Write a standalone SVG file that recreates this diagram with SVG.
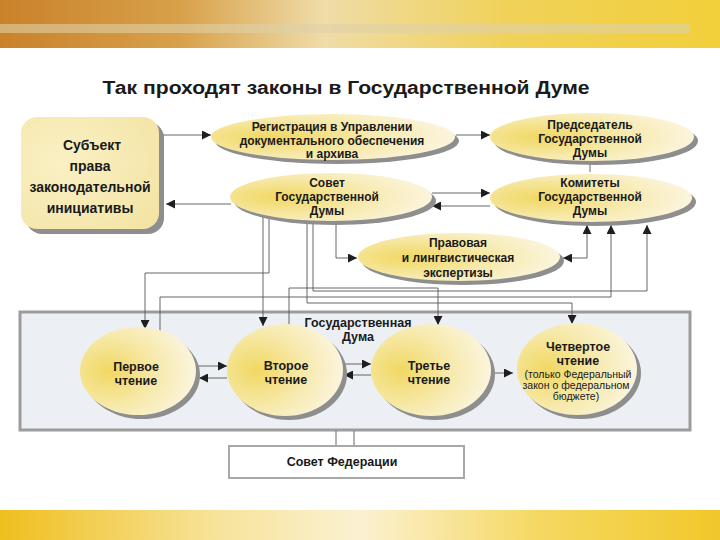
<svg xmlns="http://www.w3.org/2000/svg" width="720" height="540" viewBox="0 0 720 540">
<defs>
<linearGradient id="topband" x1="0" y1="0" x2="1" y2="0">
<stop offset="0" stop-color="#c9822a"/>
<stop offset="0.25" stop-color="#d8a04a"/>
<stop offset="0.45" stop-color="#efdca8"/>
<stop offset="0.7" stop-color="#f0d25a"/>
<stop offset="1" stop-color="#f2cf3a"/>
</linearGradient>
<linearGradient id="botband" x1="0" y1="0" x2="1" y2="0">
<stop offset="0" stop-color="#efbf1e"/>
<stop offset="0.3" stop-color="#f7e39a"/>
<stop offset="0.5" stop-color="#fbf1d2"/>
<stop offset="0.75" stop-color="#f5d861"/>
<stop offset="1" stop-color="#f1c82a"/>
</linearGradient>
<radialGradient id="yel" cx="0.25" cy="0.5" r="0.85">
<stop offset="0" stop-color="#f1d862"/>
<stop offset="0.5" stop-color="#f7eaae"/>
<stop offset="1" stop-color="#fcf8ec"/>
</radialGradient>
<radialGradient id="yelbox" cx="0.3" cy="0.4" r="0.9">
<stop offset="0" stop-color="#faf0c4"/>
<stop offset="1" stop-color="#f3e3a2"/>
</radialGradient>
<marker id="arr" viewBox="0 0 10 10" refX="10" refY="5" markerWidth="9" markerHeight="9" markerUnits="userSpaceOnUse" orient="auto-start-reverse">
<path d="M0,0 L10,5 L0,10 z" fill="#1e1e1e"/>
</marker>
<style>
.shadow{fill:#8e8e8e}
.ell{fill:url(#yel)}
.t{font-family:"Liberation Sans",Arial,sans-serif;font-weight:bold;fill:#1a1a1a;text-anchor:middle}
.e{font-size:12px}
.r{font-size:12.5px}
.n{font-family:"Liberation Sans",Arial,sans-serif;font-size:10.5px;fill:#1a1a1a;text-anchor:middle}
.c{fill:none;stroke:#555;stroke-width:0.9}
.a{marker-end:url(#arr)}
.b{marker-start:url(#arr);marker-end:url(#arr)}
</style>
</defs>
<rect x="0" y="0" width="720" height="540" fill="#ffffff"/>
<rect x="0" y="0" width="720" height="48" fill="url(#topband)"/>
<rect x="0" y="24" width="690" height="9" fill="#ddd0a8" opacity="0.6"/>
<rect x="0" y="510" width="720" height="30" fill="url(#botband)"/>

<text class="t" x="346" y="94" font-size="18" textLength="487" lengthAdjust="spacingAndGlyphs">Так проходят законы в Государственной Думе</text>

<g id="gosduma-box">
<rect x="20" y="312" width="670" height="118" fill="#eceff3" stroke="#9c9c9c" stroke-width="3"/>
<text class="t" x="358" y="327" font-size="12.5">Государственная</text>
<text class="t" x="358" y="341" font-size="12.5">Дума</text>
</g>

<g id="connectors">
<path class="c a" d="M163,135 H211"/>
<path class="c a" d="M456,135 H490"/>
<path class="c a" d="M231,204 H166"/>
<path class="c a" d="M432,193 H490"/>
<path class="c a" d="M490,206 H432"/>
<path class="c" d="M590,162 V172"/>
<path class="c b" d="M563,258 H587 V225"/>
<path class="c a" d="M160,334 V297 H611 V225"/>
<path class="c a" d="M313,221 V291 H647 V225"/>
<path class="c a" d="M269,216 V273 H145 V329"/>
<path class="c a" d="M263,216 V326"/>
<path class="c a" d="M336,222 V258 H357"/>
<path class="c a" d="M307,221 V303 H572 V324"/>
<path class="c a" d="M289,326 V288 H438 V325"/>
<path class="c a" d="M197,366 H227"/>
<path class="c a" d="M227,378 H199"/>
<path class="c a" d="M343,364 H371"/>
<path class="c a" d="M371,375 H344"/>
<path class="c a" d="M493,373 H513"/>
<path class="c" d="M336,431 V446 M354,431 V446"/>
</g>

<g id="subject">
<rect x="26" y="122" width="138" height="112" rx="16" class="shadow"/>
<rect x="21" y="117" width="138" height="112" rx="16" fill="url(#yelbox)"/>
<text class="t" x="92" y="150" font-size="14">Субъект</text>
<text class="t" x="90" y="171" font-size="14">права</text>
<text class="t" x="90" y="192" font-size="14">законодательной</text>
<text class="t" x="90" y="213" font-size="14">инициативы</text>
</g>

<g id="registration">
<ellipse cx="337" cy="141" rx="122" ry="23" class="shadow"/>
<ellipse cx="333" cy="137" rx="122" ry="23" class="ell"/>
<text class="t e" x="332" y="131">Регистрация в Управлении</text>
<text class="t e" x="332" y="145">документального обеспечения</text>
<text class="t e" x="332" y="158">и архива</text>
</g>

<g id="chairman">
<ellipse cx="596" cy="141" rx="102" ry="24" class="shadow"/>
<ellipse cx="592" cy="137" rx="102" ry="24" class="ell"/>
<text class="t e" x="590" y="129">Председатель</text>
<text class="t e" x="590" y="143">Государственной</text>
<text class="t e" x="590" y="157">Думы</text>
</g>

<g id="council">
<ellipse cx="335" cy="201" rx="101" ry="24" class="shadow"/>
<ellipse cx="331" cy="197" rx="101" ry="24" class="ell"/>
<text class="t e" x="327" y="187">Совет</text>
<text class="t e" x="327" y="201">Государственной</text>
<text class="t e" x="327" y="215">Думы</text>
</g>

<g id="committees">
<ellipse cx="595" cy="202" rx="101" ry="24" class="shadow"/>
<ellipse cx="591" cy="198" rx="101" ry="24" class="ell"/>
<text class="t e" x="590" y="187">Комитеты</text>
<text class="t e" x="590" y="201">Государственной</text>
<text class="t e" x="590" y="215">Думы</text>
</g>

<g id="expertise">
<ellipse cx="463" cy="261" rx="101" ry="24" class="shadow"/>
<ellipse cx="459" cy="257" rx="101" ry="24" class="ell"/>
<text class="t e" x="458" y="247">Правовая</text>
<text class="t e" x="458" y="262">и лингвистическая</text>
<text class="t e" x="458" y="277">экспертизы</text>
</g>

<g id="reading1">
<ellipse cx="142" cy="375" rx="58" ry="44" class="shadow"/>
<ellipse cx="138" cy="371" rx="58" ry="44" class="ell"/>
<text class="t r" x="136" y="371">Первое</text>
<text class="t r" x="136" y="385">чтение</text>
</g>

<g id="reading2">
<ellipse cx="289" cy="374" rx="58" ry="46" class="shadow"/>
<ellipse cx="285" cy="370" rx="58" ry="46" class="ell"/>
<text class="t r" x="286" y="370">Второе</text>
<text class="t r" x="286" y="384">чтение</text>
</g>

<g id="reading3">
<ellipse cx="435" cy="374" rx="60" ry="46" class="shadow"/>
<ellipse cx="431" cy="370" rx="60" ry="46" class="ell"/>
<text class="t r" x="429" y="370">Третье</text>
<text class="t r" x="429" y="384">чтение</text>
</g>

<g id="reading4">
<ellipse cx="581" cy="373" rx="60" ry="46" class="shadow"/>
<ellipse cx="577" cy="369" rx="60" ry="46" class="ell"/>
<text class="t r" x="578" y="351">Четвертое</text>
<text class="t r" x="578" y="365">чтение</text>
<text class="n" x="578" y="378">(только Федеральный</text>
<text class="n" x="576" y="389">закон о федеральном</text>
<text class="n" x="576" y="400">бюджете)</text>
</g>

<g id="federation-council">
<rect x="229" y="446" width="235" height="32" fill="#ffffff" stroke="#a8a8a8" stroke-width="2"/>
<text class="t" x="342" y="466" font-size="12.5">Совет Федерации</text>
</g>
</svg>
